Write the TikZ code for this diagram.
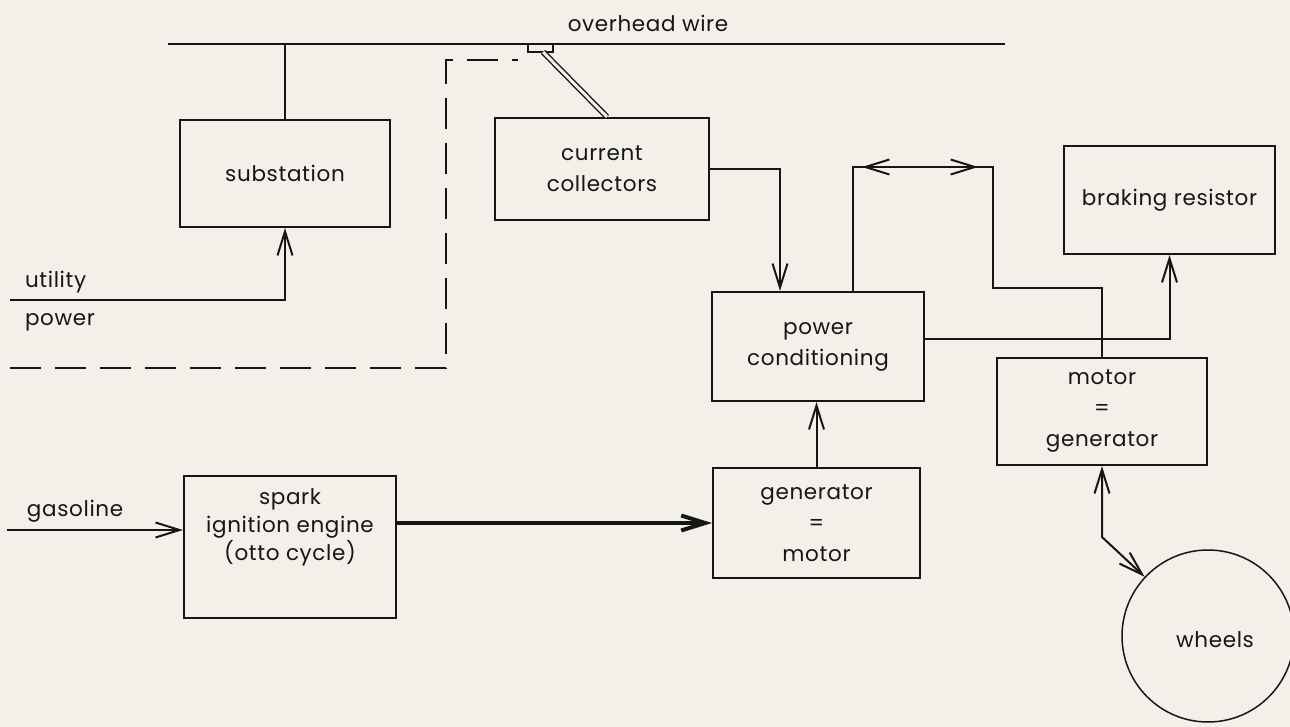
\documentclass[tikz,border=0pt]{standalone}
\usepackage{fontspec}
\setmainfont[LetterSpace=3]{Poppins}
\usepackage{tikz}
\usetikzlibrary{arrows.meta,positioning,calc}
\definecolor{paper}{RGB}{243,240,233}
\definecolor{ink}{RGB}{22,22,22}

\begin{document}
\begin{tikzpicture}[
  x=1pt, y=-1pt,
  color=ink, line width=2pt,
  unit/.style={draw, line width=2.2pt, inner sep=0pt, align=center,
    minimum width=210pt, minimum height=107pt,
    font=\fontsize{21.5}{31}\selectfont},
  tag/.style={font=\fontsize{21.5}{25}\selectfont, inner sep=0pt},
  flow/.style={-{Straight Barb[length=24pt,width=15pt]}}
]
  % Page
  \fill[paper] (0,0) rectangle (1290,727);
  \useasboundingbox (0,0) rectangle (1290,727);

  % Overhead wire
  \coordinate (wireL) at (168,44);
  \coordinate (wireR) at (1005,44);
  \draw (wireL) -- (wireR);
  \node[tag] (wire) at (648,23) {overhead wire};

  % Blocks
  \node[unit] (sub) at (285,173.5) {substation};
  \node[unit, minimum width=214pt, minimum height=102pt] (coll) at (602,169)
    {current\\collectors};
  \node[unit, minimum width=212pt, minimum height=109pt] (pc) at (818,346.5)
    {power\\conditioning};
  \node[unit, minimum width=211pt, minimum height=108pt] (brake) at (1169.5,200)
    {braking resistor};
  \node[unit] (mg) at (1102,411.5) {motor\\=\\generator};
  \node[unit, minimum width=207pt, minimum height=110pt] (gen) at (816.5,523)
    {generator\\=\\motor};
  \node[unit, minimum width=212pt, minimum height=142pt] (eng) at (290,547) {};
  \node[tag, align=center, font=\fontsize{21.5}{28}\selectfont] (engtxt) at (290,527)
    {spark\\ignition engine\\(otto cycle)};
  \node[draw, circle, line width=1.5pt, minimum size=172pt] (wheels) at (1208,636) {};
  \node[tag] (wheeltxt) at (1215,640) {wheels};

  % Current collector on the wire
  \draw[line width=1.5pt] (528,44) rectangle (553,52);
  \coordinate (shoe) at (543,52);
  \draw[double=paper, double distance=3pt, line width=1.4pt]
    (shoe) -- (coll.north -| 607,0);

  % Substation feed
  \draw (sub.north) -- (sub.north |- wireL);
  \coordinate (util) at (10,300);
  \draw[flow] (util) -| (sub.south);
  \node[tag, anchor=west] (utxt) at (24,282) {utility};
  \node[tag, anchor=west] (ptxt) at (24,322) {power};

  % Dashed link
  \draw[dash pattern=on 31pt off 14pt, line width=1.5pt]
    (10,368) -- (446,368) -- (446,60) -- (518,60);

  % Collectors to power conditioning
  \draw[flow] (coll.east) -| ([xshift=-38pt]pc.north);

  % Power conditioning to motor
  \coordinate (loopL) at ([xshift=35pt]pc.north |- 0,167);
  \coordinate (loopR) at (993,167);
  \draw ([xshift=35pt]pc.north) -- (loopL) -- (loopR) -- (993,288)
    -- (mg.north |- 0,288) -- (mg.north);
  \draw[{Straight Barb[length=24pt,width=15pt]}-{Straight Barb[length=24pt,width=15pt]}]
    ([xshift=9pt]loopL) -- ([xshift=-15pt]loopR);

  % Braking resistor
  \draw[flow] ([yshift=8pt]pc.east) -| (brake.south);

  % Generator to power conditioning
  \draw[flow] (gen.north) -- (gen.north |- pc.south);

  % Engine drive
  \draw[flow, line width=4pt] (gen.west -| eng.east) -- (gen.west);
  \coordinate (gas) at (7,530);
  \draw[flow] (gas) -- (gas -| eng.west);
  \node[tag, anchor=west] (gtxt) at (26,511) {gasoline};

  % Wheels
  \coordinate (bend) at (mg.south |- 0,537);
  \draw[{Straight Barb[length=24pt,width=15pt]}-{Straight Barb[length=24pt,width=15pt]}]
    (mg.south) -- (bend) -- (wheels);
\end{tikzpicture}
\end{document}
